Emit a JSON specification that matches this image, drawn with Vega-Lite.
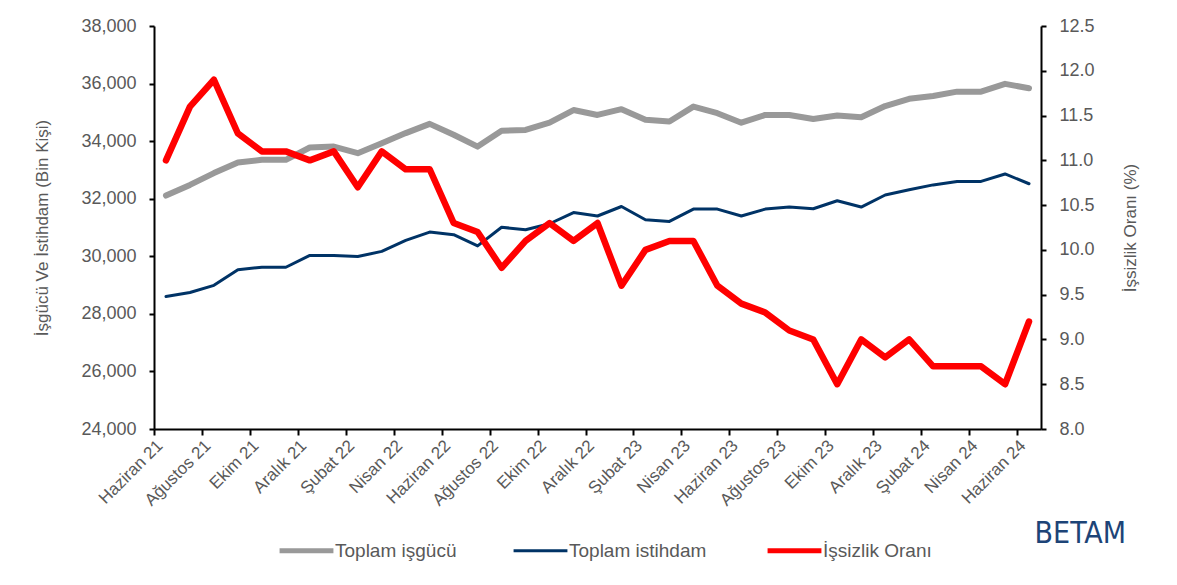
{
  "$schema": "https://vega.github.io/schema/vega-lite/v6.json",
  "width": 887,
  "height": 403,
  "padding": {"left": 33, "top": 17, "right": 10, "bottom": 5},
  "background": "white",
  "title": {"text": "BETAM", "orient": "bottom", "anchor": "end", "frame": "bounds", "fontSize": 30, "font": "DejaVu Sans Condensed, Liberation Sans", "fontWeight": "normal", "color": "#1d4477", "dy": -46, "dx": -12},
  "config": {
    "view": {"stroke": null},
    "font": "Liberation Sans",
    "axis": {
      "domainColor": "#000000",
      "domainWidth": 2,
      "tickColor": "#000000",
      "tickWidth": 2,
      "tickSize": 5,
      "grid": false,
      "labelColor": "#595959",
      "labelFontSize": 18,
      "labelFont": "Liberation Sans",
      "titleColor": "#595959",
      "titleFontSize": 17,
      "titleFont": "Liberation Sans",
      "titleFontWeight": "normal"
    }
  },
  "data": {
    "values": [
      {"ay": "Haziran 21", "isgucu": 32110, "istihdam": 28600, "oran": 11.0},
      {"ay": "Temmuz 21", "isgucu": 32480, "istihdam": 28740, "oran": 11.6},
      {"ay": "Ağustos 21", "isgucu": 32890, "istihdam": 28990, "oran": 11.9},
      {"ay": "Eylül 21", "isgucu": 33260, "istihdam": 29530, "oran": 11.3},
      {"ay": "Ekim 21", "isgucu": 33350, "istihdam": 29620, "oran": 11.1},
      {"ay": "Kasım 21", "isgucu": 33350, "istihdam": 29620, "oran": 11.1},
      {"ay": "Aralık 21", "isgucu": 33780, "istihdam": 30030, "oran": 11.0},
      {"ay": "Ocak 22", "isgucu": 33810, "istihdam": 30030, "oran": 11.1},
      {"ay": "Şubat 22", "isgucu": 33580, "istihdam": 29990, "oran": 10.7},
      {"ay": "Mart 22", "isgucu": 33930, "istihdam": 30170, "oran": 11.1},
      {"ay": "Nisan 22", "isgucu": 34280, "istihdam": 30550, "oran": 10.9},
      {"ay": "Mayıs 22", "isgucu": 34600, "istihdam": 30840, "oran": 10.9},
      {"ay": "Haziran 22", "isgucu": 34220, "istihdam": 30750, "oran": 10.3},
      {"ay": "Temmuz 22", "isgucu": 33810, "istihdam": 30360, "oran": 10.2},
      {"ay": "Ağustos 22", "isgucu": 34360, "istihdam": 31010, "oran": 9.8},
      {"ay": "Eylül 22", "isgucu": 34390, "istihdam": 30920, "oran": 10.1},
      {"ay": "Ekim 22", "isgucu": 34640, "istihdam": 31130, "oran": 10.3},
      {"ay": "Kasım 22", "isgucu": 35080, "istihdam": 31520, "oran": 10.1},
      {"ay": "Aralık 22", "isgucu": 34910, "istihdam": 31400, "oran": 10.3},
      {"ay": "Ocak 23", "isgucu": 35110, "istihdam": 31730, "oran": 9.6},
      {"ay": "Şubat 23", "isgucu": 34740, "istihdam": 31270, "oran": 10.0},
      {"ay": "Mart 23", "isgucu": 34680, "istihdam": 31210, "oran": 10.1},
      {"ay": "Nisan 23", "isgucu": 35200, "istihdam": 31640, "oran": 10.1},
      {"ay": "Mayıs 23", "isgucu": 34970, "istihdam": 31640, "oran": 9.6},
      {"ay": "Haziran 23", "isgucu": 34640, "istihdam": 31400, "oran": 9.4},
      {"ay": "Temmuz 23", "isgucu": 34910, "istihdam": 31640, "oran": 9.3},
      {"ay": "Ağustos 23", "isgucu": 34910, "istihdam": 31710, "oran": 9.1},
      {"ay": "Eylül 23", "isgucu": 34770, "istihdam": 31650, "oran": 9.0},
      {"ay": "Ekim 23", "isgucu": 34890, "istihdam": 31930, "oran": 8.5},
      {"ay": "Kasım 23", "isgucu": 34830, "istihdam": 31710, "oran": 9.0},
      {"ay": "Aralık 23", "isgucu": 35220, "istihdam": 32130, "oran": 8.8},
      {"ay": "Ocak 24", "isgucu": 35470, "istihdam": 32310, "oran": 9.0},
      {"ay": "Şubat 24", "isgucu": 35570, "istihdam": 32480, "oran": 8.7},
      {"ay": "Mart 24", "isgucu": 35720, "istihdam": 32600, "oran": 8.7},
      {"ay": "Nisan 24", "isgucu": 35720, "istihdam": 32600, "oran": 8.7},
      {"ay": "Mayıs 24", "isgucu": 35990, "istihdam": 32860, "oran": 8.5},
      {"ay": "Haziran 24", "isgucu": 35840, "istihdam": 32520, "oran": 9.2}
    ]
  },
  "encoding": {
    "x": {
      "field": "ay",
      "type": "ordinal",
      "sort": null,
      "title": null,
      "scale": {"type": "band", "paddingInner": 0, "paddingOuter": 0},
      "axis": {
        "values": ["Haziran 21", "Ağustos 21", "Ekim 21", "Aralık 21", "Şubat 22", "Nisan 22", "Haziran 22", "Ağustos 22", "Ekim 22", "Aralık 22", "Şubat 23", "Nisan 23", "Haziran 23", "Ağustos 23", "Ekim 23", "Aralık 23", "Şubat 24", "Nisan 24", "Haziran 24"],
        "labelAngle": -45,
        "tickOffset": -12,
        "tickSize": 6,
        "labelPadding": 2,
        "labelFontSize": 17
      }
    }
  },
  "layer": [
    {
      "layer": [
        {
          "mark": {"type": "line", "strokeWidth": 6, "strokeJoin": "round", "strokeCap": "round"},
          "encoding": {
            "y": {
              "field": "isgucu",
              "type": "quantitative",
              "title": "İşgücü Ve İstihdam (Bin Kişi)",
              "scale": {"domain": [24000, 38000], "nice": false, "zero": false},
              "axis": {"orient": "left", "values": [24000, 26000, 28000, 30000, 32000, 34000, 36000, 38000], "format": ",d", "labelPadding": 13, "titlePadding": 29}
            },
            "color": {
              "datum": "Toplam işgücü",
              "type": "nominal",
              "scale": {"domain": ["Toplam işgücü", "Toplam istihdam", "İşsizlik Oranı"], "range": ["#999999", "#003366", "#ff0000"]},
              "legend": {
                "title": null,
                "orient": "none",
                "direction": "horizontal",
                "legendX": 123,
                "legendY": 515,
                "symbolType": "stroke",
                "symbolSize": 2900,
                "symbolStrokeWidth": 5,
                "symbolOffset": 20,
                "labelFontSize": 19,
                "labelColor": "#595959",
                "labelFont": "Liberation Sans",
                "labelOffset": 19,
                "columnPadding": 50,
                "encode": {"symbols": {"update": {"strokeWidth": {"signal": "datum.value === 'Toplam istihdam' ? 3 : 5"}}}}
              }
            }
          }
        },
        {
          "mark": {"type": "line", "strokeWidth": 3, "strokeJoin": "round", "strokeCap": "round"},
          "encoding": {
            "y": {
              "field": "istihdam",
              "type": "quantitative",
              "title": "İşgücü Ve İstihdam (Bin Kişi)",
              "scale": {"domain": [24000, 38000], "nice": false, "zero": false},
              "axis": {"orient": "left", "values": [24000, 26000, 28000, 30000, 32000, 34000, 36000, 38000], "format": ",d", "labelPadding": 13, "titlePadding": 29}
            },
            "color": {"datum": "Toplam istihdam", "type": "nominal"}
          }
        }
      ]
    },
    {
      "mark": {"type": "line", "strokeWidth": 6.5, "strokeJoin": "round", "strokeCap": "round"},
      "encoding": {
        "y": {
          "field": "oran",
          "type": "quantitative",
          "title": "İşsizlik Oranı (%)",
          "scale": {"domain": [8, 12.5], "nice": false, "zero": false},
          "axis": {"orient": "right", "values": [8, 8.5, 9, 9.5, 10, 10.5, 11, 11.5, 12, 12.5], "format": ".1f", "labelPadding": 13, "titlePadding": 28, "titleAngle": 270, "titleBaseline": "top"}
        },
        "color": {"datum": "İşsizlik Oranı", "type": "nominal"}
      }
    }
  ],
  "resolve": {"scale": {"y": "independent"}}
}
